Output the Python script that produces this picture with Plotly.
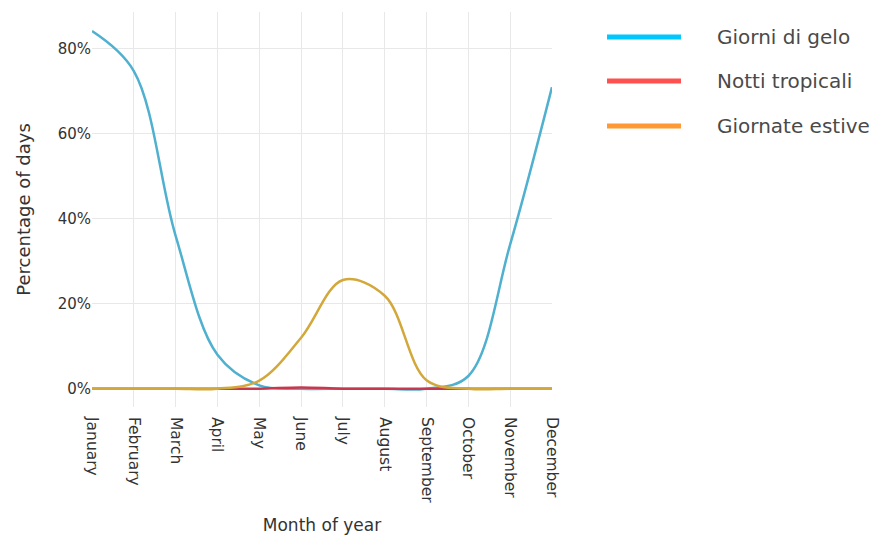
import plotly.graph_objects as go

# DATA
months = ["January", "February", "March", "April", "May", "June",
          "July", "August", "September", "October", "November", "December"]
giorni_di_gelo = [84.2, 74.8, 36.0, 8.0, 0.8, 0.0, 0.0, 0.0, 0.0, 3.0, 34.0, 71.0]
notti_tropicali = [0.0, 0.0, 0.0, 0.0, 0.0, 0.3, 0.0, 0.0, 0.0, 0.0, 0.0, 0.0]
giornate_estive = [0.0, 0.0, 0.0, 0.0, 1.9, 12.0, 25.6, 21.9, 2.0, 0.0, 0.0, 0.0]
y_ticks = [0, 20, 40, 60, 80]

series = [
    ("Giorni di gelo", giorni_di_gelo, "#4fb0cf", "#00c8ff"),
    ("Notti tropicali", notti_tropicali, "#c7384f", "#ff5050"),
    ("Giornate estive", giornate_estive, "#d3a83a", "#ff9933"),
]

FONT = "'DejaVu Sans', sans-serif"

fig = go.Figure()
for name, values, line_col, _ in series:
    fig.add_trace(go.Scatter(
        x=months, y=values, name=name, mode="lines",
        line=dict(color=line_col, width=2.5, shape="spline", smoothing=1.0),
        showlegend=False,
    ))

# legend drawn by hand: long thick lines + labels
legend_y = [0.9367, 0.8253, 0.7114]
for (name, _, _, leg_col), ly in zip(series, legend_y):
    fig.add_shape(type="line", xref="paper", yref="paper",
                  x0=1.1196, x1=1.2804, y0=ly, y1=ly,
                  line=dict(color=leg_col, width=5))
    fig.add_annotation(xref="paper", yref="paper", x=1.3543, y=ly,
                       xanchor="left", yanchor="middle", showarrow=False,
                       text=name, font=dict(size=20, color="#4a4a4a", family=FONT))

# page body has an 8px margin, so shift everything by that
fig.update_layout(
    width=877, height=536,
    margin=dict(l=84, r=333, t=4, b=137),
    paper_bgcolor="white", plot_bgcolor="white",
    font=dict(family=FONT, color="#333333"),
)
fig.update_xaxes(
    range=[0, 11], tickangle=90, showgrid=True, gridcolor="#e8e8e8",
    tickfont=dict(size=15.5, color="#333333"), ticklabelstandoff=9,
    title=dict(text="Month of year", font=dict(size=17, color="#333333"), standoff=16),
    zeroline=False, showline=False,
)
fig.update_yaxes(
    range=[-4.3, 88.7], tickvals=y_ticks, ticktext=[f"{v}%" for v in y_ticks],
    showgrid=True, gridcolor="#e8e8e8", zeroline=False,
    tickfont=dict(size=15, color="#333333"),
    title=dict(text="Percentage of days", font=dict(size=18, color="#333333"), standoff=22),
)

fig.write_html("out.html")
